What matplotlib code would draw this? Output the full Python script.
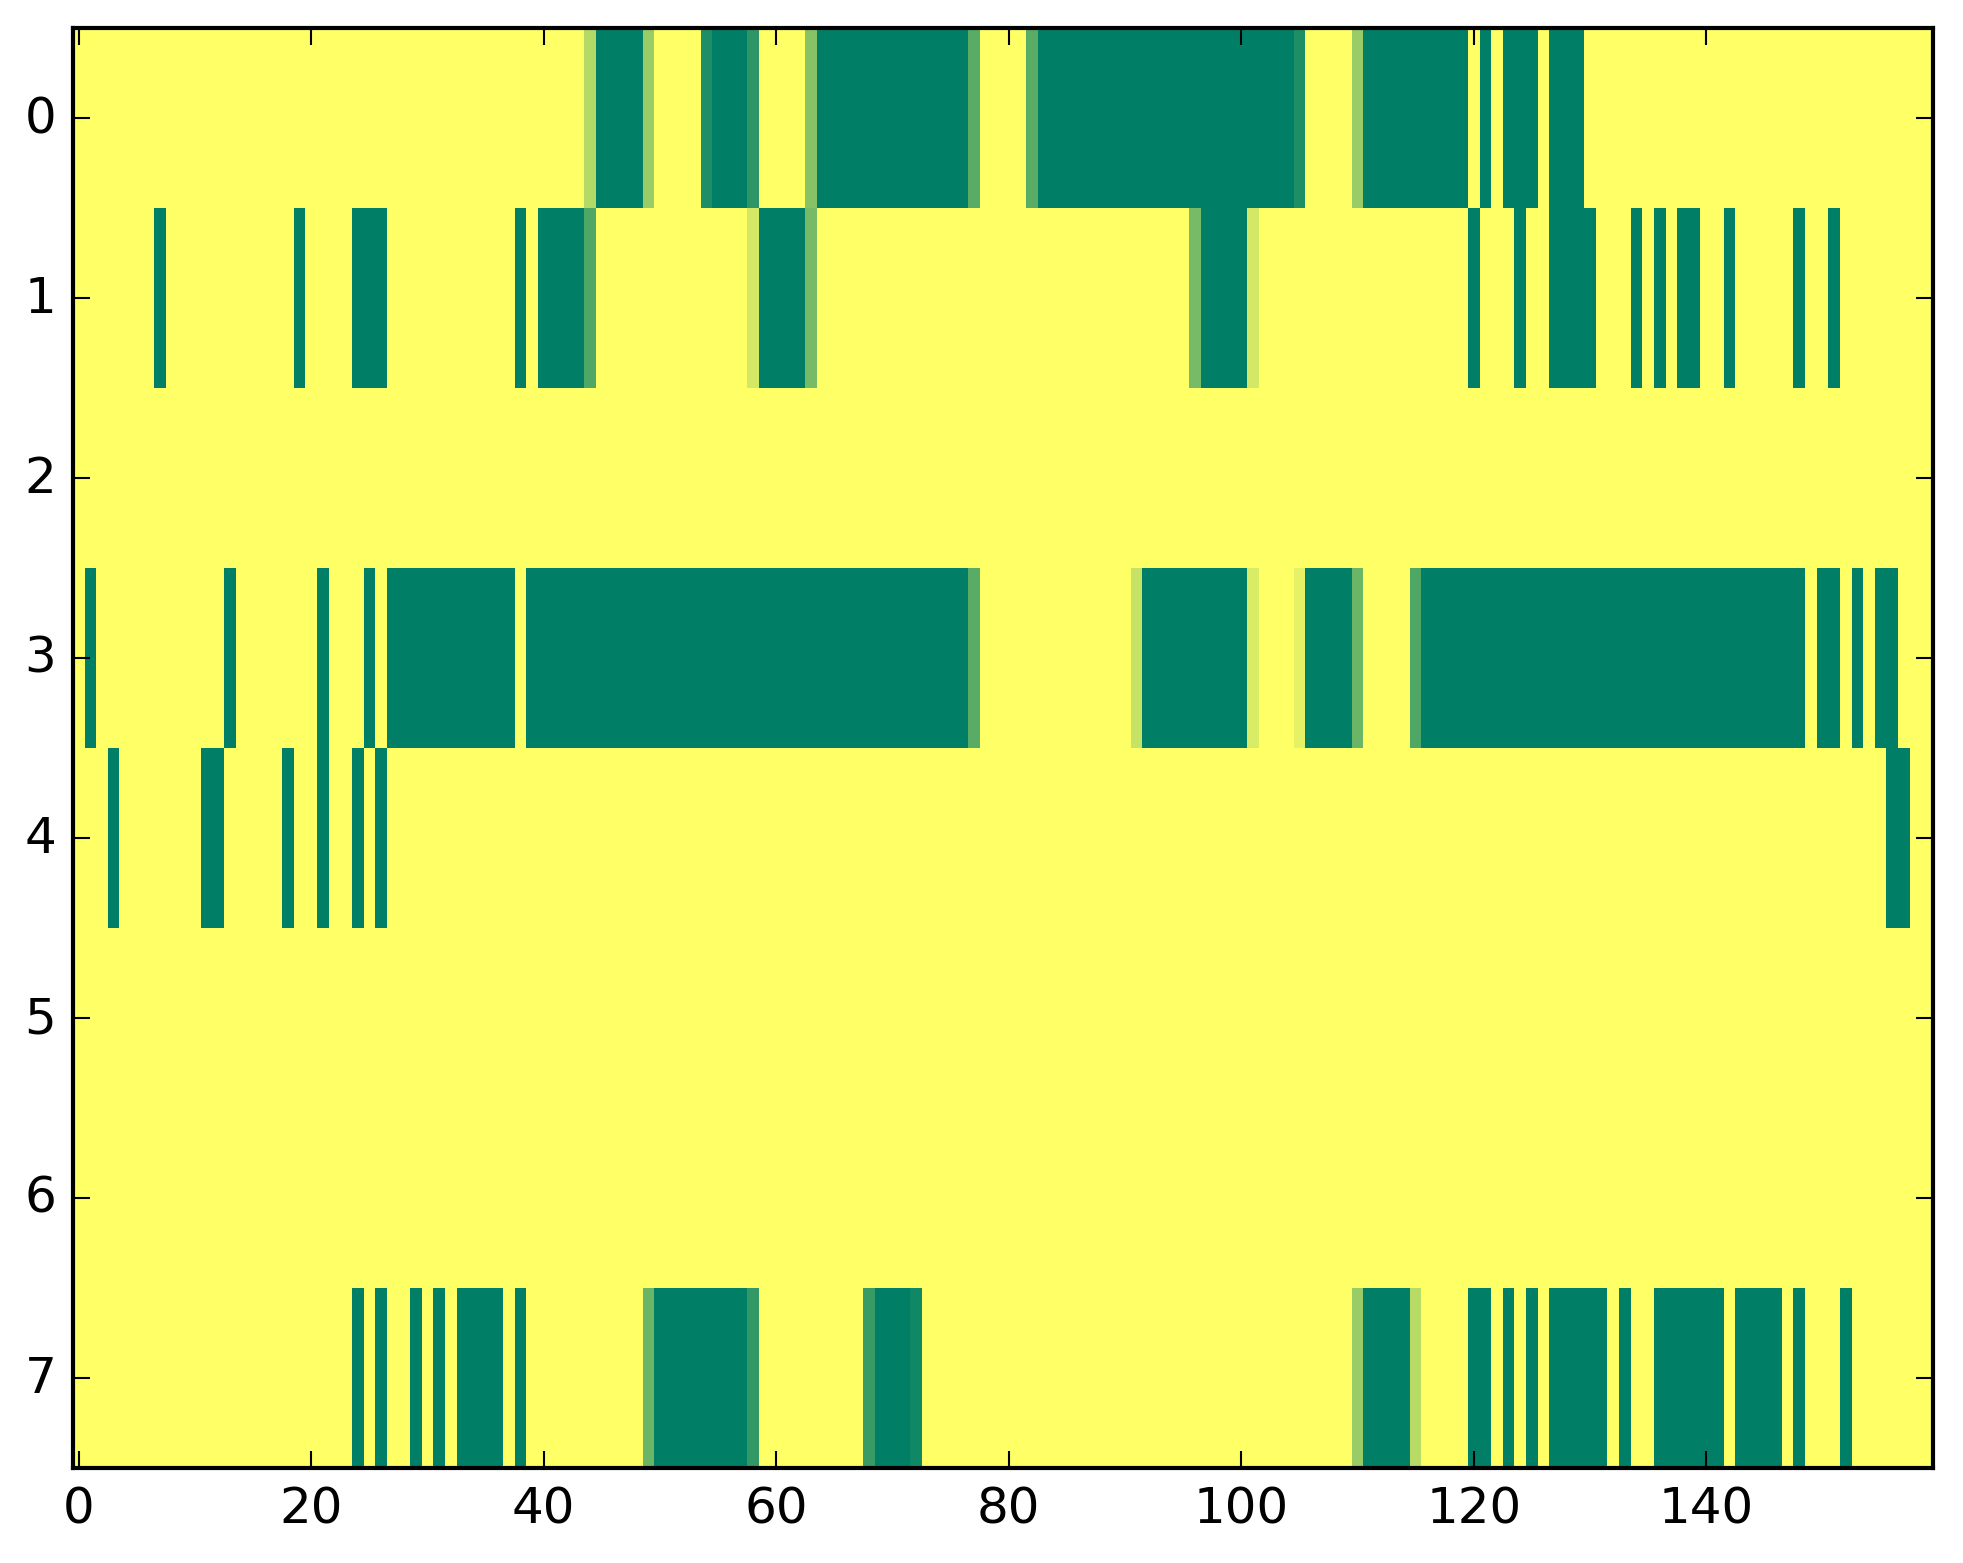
import matplotlib
matplotlib.use("Agg")
import matplotlib.pyplot as plt
import numpy as np

# old-style matplotlib look (ticks inside, on all four sides)
plt.style.use("classic")

n_rows = 8
n_cols = 160

# runs of (first column, last column, weight) per row; weight 1 = dark green,
# 0 = yellow background
row0 = [(44, 44, 0.30), (45, 48, 1.0), (49, 49, 0.40), (54, 54, 0.88), (55, 57, 1.0),
        (58, 58, 0.82), (63, 63, 0.47), (64, 76, 1.0), (77, 77, 0.65), (82, 82, 0.65),
        (83, 104, 1.0), (105, 105, 0.88), (110, 110, 0.40), (111, 119, 1.0),
        (121, 121, 1.0), (123, 125, 1.0), (127, 129, 1.0)]
row1 = [(7, 7, 1.0), (19, 19, 1.0), (24, 26, 1.0), (38, 38, 1.0), (40, 43, 1.0),
        (44, 44, 0.69), (58, 58, 0.17), (59, 62, 1.0), (63, 63, 0.53), (96, 96, 0.53),
        (97, 100, 1.0), (101, 101, 0.17), (120, 120, 1.0), (124, 124, 1.0),
        (127, 130, 1.0), (134, 134, 1.0), (136, 136, 1.0), (138, 139, 1.0),
        (142, 142, 1.0), (148, 148, 1.0), (151, 151, 1.0)]
row2 = []
row3 = [(1, 1, 1.0), (13, 13, 1.0), (21, 21, 1.0), (25, 25, 1.0), (27, 37, 1.0),
        (39, 76, 1.0), (77, 77, 0.65), (91, 91, 0.22), (92, 100, 1.0), (101, 101, 0.15),
        (105, 105, 0.10), (106, 109, 1.0), (110, 110, 0.58), (115, 115, 0.69),
        (116, 148, 1.0), (150, 151, 1.0), (153, 153, 1.0), (155, 156, 1.0)]
row4 = [(3, 3, 1.0), (11, 12, 1.0), (18, 18, 1.0), (21, 21, 1.0), (24, 24, 1.0),
        (26, 26, 1.0), (156, 157, 1.0)]
row5 = []
row6 = []
row7 = [(24, 24, 1.0), (26, 26, 1.0), (29, 29, 1.0), (31, 31, 1.0), (33, 36, 1.0),
        (38, 38, 1.0), (49, 49, 0.58), (50, 57, 1.0), (58, 58, 0.80), (68, 68, 0.78),
        (69, 71, 1.0), (72, 72, 0.93), (110, 110, 0.40), (111, 114, 1.0),
        (115, 115, 0.28), (120, 121, 1.0), (123, 123, 1.0), (125, 125, 1.0),
        (127, 131, 1.0), (133, 133, 1.0), (136, 141, 1.0), (143, 146, 1.0),
        (148, 148, 1.0), (152, 152, 1.0)]

x_ticks = [0, 20, 40, 60, 80, 100, 120, 140]
y_ticks = list(range(n_rows))

rows = [row0, row1, row2, row3, row4, row5, row6, row7]
grid = np.zeros((n_rows, n_cols))
for r, runs in enumerate(rows):
    for start, stop, w in runs:
        grid[r, start:stop + 1] = w

W, H, DPI = 1963, 1564, 300
fig = plt.figure(figsize=(W / DPI, H / DPI), dpi=DPI, facecolor="white")
ax = fig.add_axes([73 / W, 95 / H, 1860 / W, 1440 / H])

ax.imshow(grid, cmap="summer_r", vmin=0, vmax=1, interpolation="nearest", aspect="auto")
ax.set_xticks(x_ticks)
ax.set_yticks(y_ticks)
ax.tick_params(labelsize=12)

fig.savefig("out.png", dpi=DPI, facecolor="white")
